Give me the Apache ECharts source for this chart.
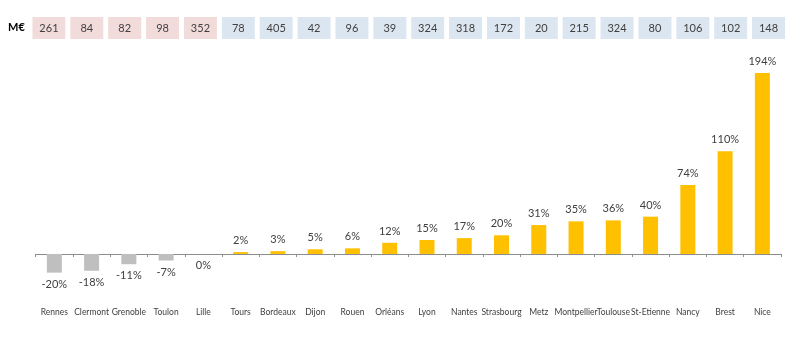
<!DOCTYPE html>
<html><head><meta charset="utf-8">
<script src="https://cdn.jsdelivr.net/npm/echarts@6/dist/echarts.min.js"></script>
<style>html,body{margin:0;padding:0;background:#fff}#c{width:800px;height:360px}</style>
</head><body><div id="c"></div>
<script>
const categories = ['Rennes','Clermont','Grenoble','Toulon','Lille','Tours','Bordeaux','Dijon','Rouen','Orléans','Lyon','Nantes','Strasbourg','Metz','Montpellier','Toulouse','St-Etienne','Nancy','Brest','Nice'];
const growth = [-20,-18,-11,-7,0,2,3,5,6,12,15,17,20,31,35,36,40,74,110,194];
const amounts = [261,84,82,98,352,78,405,42,96,39,324,318,172,20,215,324,80,106,102,148];
const unitLabel = 'M€';

const FONT = 'Lato';
const chart = echarts.init(document.getElementById('c'));
const barData = growth.map(v => ({
  value: v,
  itemStyle: { color: v < 0 ? '#BFBFBF' : '#FFC000' },
  label: { position: v <= 0 ? 'bottom' : 'top' }
}));
chart.setOption({
  animation: false,
  textStyle: { fontFamily: FONT },
  graphic: [{ type: 'text', left: 8, top: 22, style: { text: unitLabel, font: 'bold 11px ' + FONT, fill: '#000' } }],
  grid: [
    { left: 35.7, right: 19, top: 58.1, bottom: 59.4 },
    { left: 30, right: 12.5, top: 39, height: 1 }
  ],
  xAxis: [
    { type: 'category', data: categories, gridIndex: 0,
      axisLine: { onZero: true, lineStyle: { color: '#8C8C8C', width: 1 } },
      axisTick: { show: true, length: 3, lineStyle: { color: '#8C8C8C' } },
      axisLabel: { margin: 7, fontSize: 8.5, color: '#404040', fontFamily: FONT, interval: 0 } },
    { type: 'category', data: amounts.map(String), gridIndex: 1, position: 'top',
      axisLine: { show: false }, axisTick: { show: false },
      axisLabel: { margin: 0, interval: 0,
        formatter: (v, i) => (growth[i] <= 0 ? '{p|' : '{b|') + v + '}',
        rich: {
          p: { backgroundColor: '#F2DCDB', width: 33, height: 22, lineHeight: 22, align: 'center', fontSize: 11, color: '#404040', fontFamily: FONT },
          b: { backgroundColor: '#DCE6F1', width: 33, height: 22, lineHeight: 22, align: 'center', fontSize: 11, color: '#404040', fontFamily: FONT }
        } } }
  ],
  yAxis: [
    { type: 'value', gridIndex: 0, min: -50, max: 210, show: false, splitLine: { show: false } },
    { type: 'value', gridIndex: 1, show: false }
  ],
  series: [{
    type: 'bar', xAxisIndex: 0, yAxisIndex: 0, barWidth: 15, data: barData,
    label: { show: true, formatter: p => p.value + '%', fontSize: 11, color: '#404040', distance: 6, fontFamily: FONT }
  }]
});
</script></body></html>
